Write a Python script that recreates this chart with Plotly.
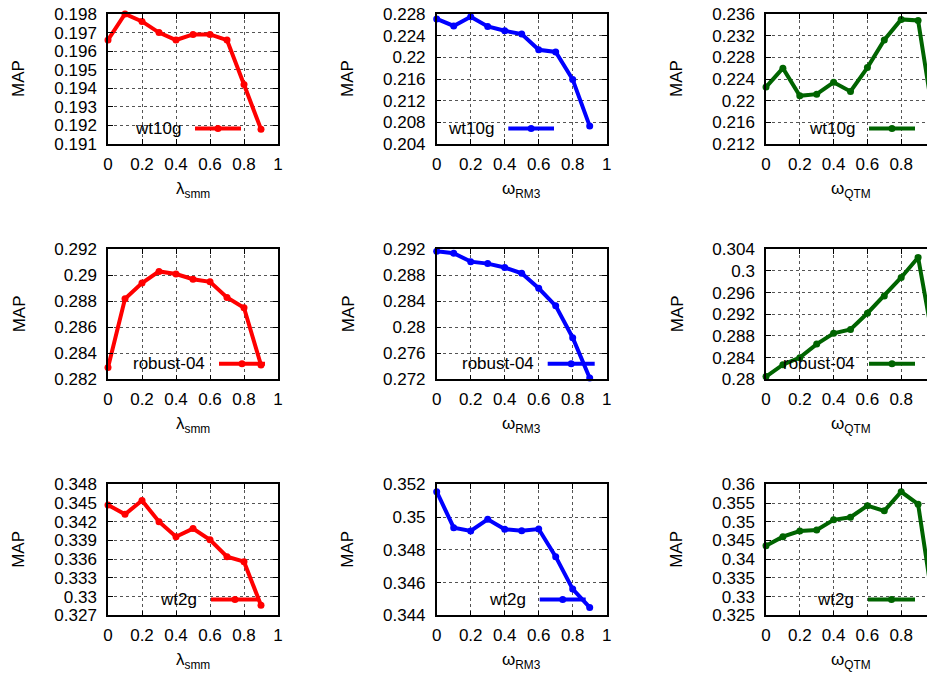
import plotly.graph_objects as go

# ---------------- data ----------------
x_smm = [0, 0.1, 0.2, 0.3, 0.4, 0.5, 0.6, 0.7, 0.8, 0.9]
x_rm3 = [0, 0.1, 0.2, 0.3, 0.4, 0.5, 0.6, 0.7, 0.8, 0.9]
x_qtm = [0, 0.1, 0.2, 0.3, 0.4, 0.5, 0.6, 0.7, 0.8, 0.9, 1.0]

wt10g_smm = [0.1966, 0.1980, 0.1976, 0.1970, 0.1966, 0.1969, 0.1969, 0.1966, 0.1942, 0.1918]
wt10g_rm3 = [0.2271, 0.2258, 0.2275, 0.2257, 0.2249, 0.2243, 0.2214, 0.2210, 0.2159, 0.2073]
wt10g_qtm = [0.2225, 0.2260, 0.2209, 0.2212, 0.2234, 0.2217, 0.2261, 0.2312, 0.2350, 0.2348, 0.2150]

robust_smm = [0.2829, 0.2882, 0.2894, 0.2903, 0.2901, 0.2897, 0.2895, 0.2883, 0.2875, 0.2831]
robust_rm3 = [0.2917, 0.2914, 0.2901, 0.2898, 0.2892, 0.2883, 0.2860, 0.2833, 0.2784, 0.2722]
robust_qtm = [0.2805, 0.2827, 0.2840, 0.2865, 0.2885, 0.2892, 0.2922, 0.2954, 0.2988, 0.3025, 0.2852]

wt2g_smm = [0.3447, 0.3432, 0.3454, 0.3420, 0.3396, 0.3409, 0.3391, 0.3364, 0.3356, 0.3286]
wt2g_rm3 = [0.35155, 0.34935, 0.34915, 0.34986, 0.34925, 0.34917, 0.34927, 0.34758, 0.34560, 0.34448]
wt2g_qtm = [0.3436, 0.3460, 0.3475, 0.3478, 0.3505, 0.3512, 0.3543, 0.3529, 0.3580, 0.3547, 0.3247]

collections = ["wt10g", "robust-04", "wt2g"]
param_titles = ["λ<sub>smm</sub>", "ω<sub>RM3</sub>", "ω<sub>QTM</sub>"]

x_ticks = [0, 0.2, 0.4, 0.6, 0.8, 1.0]
x_tick_labels = ["0", "0.2", "0.4", "0.6", "0.8", "1"]

# y-axis ticks per panel (row, col)
y_ticks = [
    [[0.191, 0.192, 0.193, 0.194, 0.195, 0.196, 0.197, 0.198],
     [0.204, 0.208, 0.212, 0.216, 0.22, 0.224, 0.228],
     [0.212, 0.216, 0.22, 0.224, 0.228, 0.232, 0.236]],
    [[0.282, 0.284, 0.286, 0.288, 0.29, 0.292],
     [0.272, 0.276, 0.28, 0.284, 0.288, 0.292],
     [0.28, 0.284, 0.288, 0.292, 0.296, 0.3, 0.304]],
    [[0.327, 0.33, 0.333, 0.336, 0.339, 0.342, 0.345, 0.348],
     [0.344, 0.346, 0.348, 0.35, 0.352],
     [0.325, 0.33, 0.335, 0.34, 0.345, 0.35, 0.355, 0.36]],
]
y_tick_labels = [[[("%g" % v) for v in col] for col in row] for row in y_ticks]

series = [
    [(x_smm, wt10g_smm), (x_rm3, wt10g_rm3), (x_qtm, wt10g_qtm)],
    [(x_smm, robust_smm), (x_rm3, robust_rm3), (x_qtm, robust_qtm)],
    [(x_smm, wt2g_smm), (x_rm3, wt2g_rm3), (x_qtm, wt2g_qtm)],
]

# ---------------- styling / layout ----------------
W, H = 935, 679
OFF = 8  # page body margin offset
FW, FH = W - OFF, H - OFF
colors = ["#ff0000", "#0000ff", "#006400"]
FONT = "Liberation Sans, Arial, Helvetica, sans-serif"
FS = 17

col_px = [(108, 278), (436.7, 606.7), (766, 936)]
row_px = [(14, 144), (249.3, 379.3), (484.3, 615.3)]
ylab_px = [19, 348, 677]


def px_x(p):
    return (p - OFF) / FW


def px_y(p):
    return 1 - (p - OFF) / FH


# legend sample line start/end in pixels relative to panel left
legend_px = [
    [(87, 133), (71.6, 117.3), (103, 149)],
    [(111, 157), (111, 158), (103, 149)],
    [(103, 151), (103, 149), (102, 149)],
]

fig = go.Figure()
layout = dict(
    template="none",
    width=FW, height=FH,
    margin=dict(l=0, r=0, t=0, b=0),
    paper_bgcolor="white", plot_bgcolor="white",
    showlegend=False,
    font=dict(family=FONT, size=FS, color="black"),
)
annotations = []
shapes = []

for r in range(3):
    for c in range(3):
        idx = r * 3 + c + 1
        xa = "x" if idx == 1 else "x%d" % idx
        ya = "y" if idx == 1 else "y%d" % idx
        xkey = "xaxis" if idx == 1 else "xaxis%d" % idx
        ykey = "yaxis" if idx == 1 else "yaxis%d" % idx
        xs, ys = series[r][c]
        fig.add_trace(go.Scatter(
            x=xs, y=ys, xaxis=xa, yaxis=ya, mode="lines+markers",
            line=dict(color=colors[c], width=4),
            marker=dict(color=colors[c], size=7, symbol="circle"),
            cliponaxis=False, name=collections[r],
        ))
        x0p, x1p = col_px[c]
        y0p, y1p = row_px[r]
        yt = y_ticks[r][c]
        layout[xkey] = dict(
            domain=[px_x(x0p), min(px_x(x1p), 1.0)], anchor=ya, automargin=False,
            range=[0, 1], tickmode="array", tickvals=x_ticks, ticktext=x_tick_labels,
            ticks="inside", ticklen=5, tickwidth=1, tickcolor="black",
            showline=True, linecolor="black", linewidth=1.5, mirror="ticks",
            showgrid=True, gridcolor="#555", griddash="dot", gridwidth=1,
            zeroline=False, tickfont=dict(family=FONT, size=FS, color="black"),
            ticklabelstandoff=4, ticklabeloverflow="allow",
        )
        layout[ykey] = dict(
            domain=[px_y(y1p), px_y(y0p)], anchor=xa, automargin=False,
            range=[yt[0], yt[-1]], tickmode="array", tickvals=yt,
            ticktext=y_tick_labels[r][c],
            ticks="inside", ticklen=5, tickwidth=1, tickcolor="black",
            showline=True, linecolor="black", linewidth=1.5, mirror="ticks",
            showgrid=True, gridcolor="#555", griddash="dot", gridwidth=1,
            zeroline=False, tickfont=dict(family=FONT, size=FS, color="black"),
            ticklabelstandoff=6, ticklabeloverflow="allow",
        )
        # axis titles
        annotations.append(dict(
            text="MAP", xref="paper", yref="paper",
            x=px_x(ylab_px[c]), y=px_y((y0p + y1p) / 2),
            textangle=-90, showarrow=False, xanchor="center", yanchor="middle",
            font=dict(family=FONT, size=FS, color="black"),
        ))
        annotations.append(dict(
            text=param_titles[c], xref="paper", yref="paper",
            x=px_x(x0p + 85), y=px_y(y1p + 46),
            showarrow=False, xanchor="center", yanchor="middle",
            font=dict(family=FONT, size=FS, color="black"),
        ))
        # legend key (gnuplot style: text left of sample)
        pw = min(x1p, W) - x0p
        ls, le = legend_px[r][c]
        ly = 0.12
        annotations.append(dict(
            text=collections[r], xref=xa + " domain", yref=ya + " domain",
            x=(ls - 12) / pw, y=ly, showarrow=False, xanchor="right", yanchor="middle",
            font=dict(family=FONT, size=FS, color="black"),
        ))
        shapes.append(dict(
            type="line", xref=xa + " domain", yref=ya + " domain",
            x0=ls / pw, x1=le / pw, y0=ly, y1=ly,
            line=dict(color=colors[c], width=4),
        ))
        shapes.append(dict(
            type="circle", xref=xa + " domain", yref=ya + " domain",
            xsizemode="pixel", ysizemode="pixel",
            xanchor=((ls + le) / 2) / pw, yanchor=ly,
            x0=-3.5, x1=3.5, y0=-3.5, y1=3.5,
            fillcolor=colors[c], line=dict(color=colors[c], width=0),
        ))

layout["annotations"] = annotations
layout["shapes"] = shapes
fig.update_layout(**layout)
fig.write_html("out.html")
